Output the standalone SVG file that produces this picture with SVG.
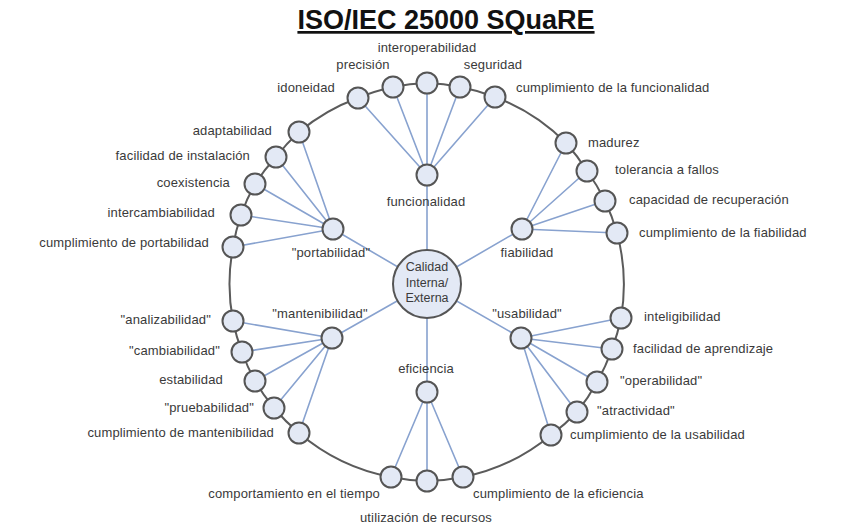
<svg xmlns="http://www.w3.org/2000/svg" width="844" height="531" viewBox="0 0 844 531">
  <style>
    .ring { fill: none; stroke: #5b5b5b; stroke-width: 2; }
    .spoke { stroke: #88a2cf; stroke-width: 1.6; fill: none; }
    .node { fill: #e3e9f5; stroke: #555; stroke-width: 2; }
    .lbl { font-family: "Liberation Sans", Arial, sans-serif; font-size: 13px; letter-spacing: 0.15px; fill: #3a3a3a; }
    .core { font-family: "Liberation Sans", Arial, sans-serif; font-size: 12.5px; fill: #3a3a3a; text-anchor: middle; }
    .mid { text-anchor: middle; }
    .end { text-anchor: end; }
    .title { font-family: "Liberation Sans", Arial, sans-serif; font-size: 27px; font-weight: bold; fill: #111; text-anchor: middle; text-decoration: underline; }
  </style>
  <rect width="844" height="531" fill="#fff"/>

  <text class="title" x="446" y="29">ISO/IEC 25000 SQuaRE</text>

  <g id="connectors">
    <!-- outer ring through all sub-characteristics -->
    <path class="ring" d="M427,83 A197,197 0 0 1 460,87 A197,197 0 0 1 495,97 A197,197 0 0 1 566,143 A197,197 0 0 1 587,171 A197,197 0 0 1 605,201 A197,197 0 0 1 617,233 A197,197 0 0 1 621,318 A197,197 0 0 1 612,349 A197,197 0 0 1 597,382 A197,197 0 0 1 577,412 A197,197 0 0 1 551,435 A197,197 0 0 1 463,477 A197,197 0 0 1 427,481 A197,197 0 0 1 391,477 A197,197 0 0 1 299,433 A197,197 0 0 1 274,408 A197,197 0 0 1 255,381 A197,197 0 0 1 242,352 A197,197 0 0 1 233,321 A197,197 0 0 1 233,247 A197,197 0 0 1 241,215 A197,197 0 0 1 255,184 A197,197 0 0 1 276,157 A197,197 0 0 1 299,132 A197,197 0 0 1 358,98 A197,197 0 0 1 393,87 A197,197 0 0 1 427,83 Z"/>
    <!-- center to characteristics -->
    <path class="spoke" d="M427,284 L427,175 M427,284 L522,229 M427,284 L521,338 M427,284 L427,392 M427,284 L332,338 M427,284 L333,229"/>
    <!-- funcionalidad -->
    <path class="spoke" d="M427,175 L358,98 M427,175 L393,87 M427,175 L427,83 M427,175 L460,87 M427,175 L495,97"/>
    <!-- fiabilidad -->
    <path class="spoke" d="M522,229 L566,143 M522,229 L587,171 M522,229 L605,201 M522,229 L617,233"/>
    <!-- usabilidad -->
    <path class="spoke" d="M521,338 L621,318 M521,338 L612,349 M521,338 L597,382 M521,338 L577,412 M521,338 L551,435"/>
    <!-- eficiencia -->
    <path class="spoke" d="M427,392 L391,477 M427,392 L427,481 M427,392 L463,477"/>
    <!-- mantenibilidad -->
    <path class="spoke" d="M332,338 L233,321 M332,338 L242,352 M332,338 L255,381 M332,338 L274,408 M332,338 L299,433"/>
    <!-- portabilidad -->
    <path class="spoke" d="M333,229 L299,132 M333,229 L276,157 M333,229 L255,184 M333,229 L241,215 M333,229 L233,247"/>
  </g>

  <!-- center -->
  <g id="calidad">
    <circle class="node" cx="427" cy="284" r="34"/>
    <text class="core" x="427" y="271">Calidad</text>
    <text class="core" x="427" y="287">Interna/</text>
    <text class="core" x="427" y="302">Externa</text>
  </g>

  <!-- characteristics -->
  <g id="funcionalidad"><circle class="node" cx="427" cy="175" r="10.5"/><text class="lbl mid" x="426" y="206">funcionalidad</text></g>
  <g id="fiabilidad"><circle class="node" cx="522" cy="229" r="10.5"/><text class="lbl mid" x="527" y="257">fiabilidad</text></g>
  <g id="usabilidad"><circle class="node" cx="521" cy="338" r="10.5"/><text class="lbl mid" x="527" y="318">"usabilidad"</text></g>
  <g id="eficiencia"><circle class="node" cx="427" cy="392" r="10.5"/><text class="lbl mid" x="426" y="373">eficiencia</text></g>
  <g id="mantenibilidad"><circle class="node" cx="332" cy="338" r="10.5"/><text class="lbl mid" x="320" y="318">"mantenibilidad"</text></g>
  <g id="portabilidad"><circle class="node" cx="333" cy="229" r="10.5"/><text class="lbl mid" x="331" y="257">"portabilidad"</text></g>

  <!-- funcionalidad sub-characteristics -->
  <g id="idoneidad"><circle class="node" cx="358" cy="98" r="10.5"/><text class="lbl end" x="335" y="92">idoneidad</text></g>
  <g id="precision"><circle class="node" cx="393" cy="87" r="10.5"/><text class="lbl mid" x="363" y="69">precisión</text></g>
  <g id="interoperabilidad"><circle class="node" cx="427" cy="83" r="10.5"/><text class="lbl mid" x="427" y="52">interoperabilidad</text></g>
  <g id="seguridad"><circle class="node" cx="460" cy="87" r="10.5"/><text class="lbl mid" x="493" y="69">seguridad</text></g>
  <g id="cumplimiento-funcionalidad"><circle class="node" cx="495" cy="97" r="10.5"/><text class="lbl" x="516" y="92">cumplimiento de la funcionalidad</text></g>

  <!-- fiabilidad sub-characteristics -->
  <g id="madurez"><circle class="node" cx="566" cy="143" r="10.5"/><text class="lbl" x="588" y="147">madurez</text></g>
  <g id="tolerancia"><circle class="node" cx="587" cy="171" r="10.5"/><text class="lbl" x="615" y="174">tolerancia a fallos</text></g>
  <g id="recuperacion"><circle class="node" cx="605" cy="201" r="10.5"/><text class="lbl" x="629" y="204">capacidad de recuperación</text></g>
  <g id="cumplimiento-fiabilidad"><circle class="node" cx="617" cy="233" r="10.5"/><text class="lbl" x="639" y="237">cumplimiento de la fiabilidad</text></g>

  <!-- usabilidad sub-characteristics -->
  <g id="inteligibilidad"><circle class="node" cx="621" cy="318" r="10.5"/><text class="lbl" x="644" y="321">inteligibilidad</text></g>
  <g id="aprendizaje"><circle class="node" cx="612" cy="349" r="10.5"/><text class="lbl" x="633" y="353">facilidad de aprendizaje</text></g>
  <g id="operabilidad"><circle class="node" cx="597" cy="382" r="10.5"/><text class="lbl" x="620" y="385">"operabilidad"</text></g>
  <g id="atractividad"><circle class="node" cx="577" cy="412" r="10.5"/><text class="lbl" x="597" y="415">"atractividad"</text></g>
  <g id="cumplimiento-usabilidad"><circle class="node" cx="551" cy="435" r="10.5"/><text class="lbl" x="570" y="439">cumplimiento de la usabilidad</text></g>

  <!-- eficiencia sub-characteristics -->
  <g id="comportamiento"><circle class="node" cx="391" cy="477" r="10.5"/><text class="lbl end" x="380" y="498">comportamiento en el tiempo</text></g>
  <g id="recursos"><circle class="node" cx="427" cy="481" r="10.5"/><text class="lbl mid" x="426" y="522">utilización de recursos</text></g>
  <g id="cumplimiento-eficiencia"><circle class="node" cx="463" cy="477" r="10.5"/><text class="lbl" x="473" y="498">cumplimiento de la eficiencia</text></g>

  <!-- mantenibilidad sub-characteristics -->
  <g id="analizabilidad"><circle class="node" cx="233" cy="321" r="10.5"/><text class="lbl end" x="211" y="324">"analizabilidad"</text></g>
  <g id="cambiabilidad"><circle class="node" cx="242" cy="352" r="10.5"/><text class="lbl end" x="220" y="355">"cambiabilidad"</text></g>
  <g id="estabilidad"><circle class="node" cx="255" cy="381" r="10.5"/><text class="lbl end" x="223" y="384">estabilidad</text></g>
  <g id="pruebabilidad"><circle class="node" cx="274" cy="408" r="10.5"/><text class="lbl end" x="254" y="412">"pruebabilidad"</text></g>
  <g id="cumplimiento-mantenibilidad"><circle class="node" cx="299" cy="433" r="10.5"/><text class="lbl end" x="274" y="437">cumplimiento de mantenibilidad</text></g>

  <!-- portabilidad sub-characteristics -->
  <g id="adaptabilidad"><circle class="node" cx="299" cy="132" r="10.5"/><text class="lbl end" x="272" y="135">adaptabilidad</text></g>
  <g id="instalacion"><circle class="node" cx="276" cy="157" r="10.5"/><text class="lbl end" x="250" y="160">facilidad de instalación</text></g>
  <g id="coexistencia"><circle class="node" cx="255" cy="184" r="10.5"/><text class="lbl end" x="230" y="187">coexistencia</text></g>
  <g id="intercambiabilidad"><circle class="node" cx="241" cy="215" r="10.5"/><text class="lbl end" x="215" y="217">intercambiabilidad</text></g>
  <g id="cumplimiento-portabilidad"><circle class="node" cx="233" cy="247" r="10.5"/><text class="lbl end" x="209" y="247">cumplimiento de portabilidad</text></g>
</svg>
